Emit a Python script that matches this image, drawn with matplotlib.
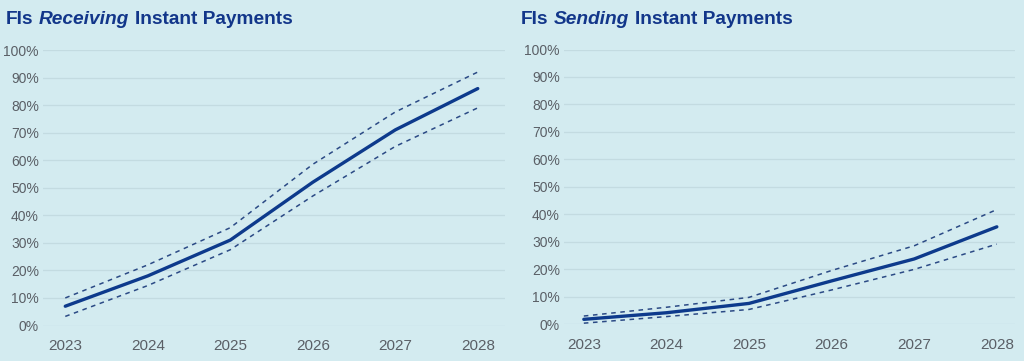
import matplotlib
matplotlib.use('Agg')
import matplotlib.pyplot as plt
from matplotlib.offsetbox import TextArea, HPacker, AnchoredOffsetbox
from matplotlib.ticker import PercentFormatter

years = [2023, 2024, 2025, 2026, 2027, 2028]
recv_mid = [0.07, 0.18, 0.31, 0.52, 0.71, 0.86]
recv_hi = [0.10, 0.22, 0.355, 0.585, 0.775, 0.92]
recv_lo = [0.033, 0.145, 0.275, 0.47, 0.65, 0.79]
send_mid = [0.017, 0.041, 0.075, 0.157, 0.237, 0.354]
send_hi = [0.029, 0.061, 0.097, 0.195, 0.285, 0.417]
send_lo = [0.003, 0.027, 0.053, 0.124, 0.199, 0.291]

BG = '#d3ebf0'
NAVY = '#0d3a8c'
DASH = '#2b4a85'
TITLE = '#12368a'
plt.rcParams['font.family'] = ['Liberation Sans', 'DejaVu Sans']

fig = plt.figure(figsize=(10.24, 3.61), dpi=100, facecolor=BG)

def panel(rect, mid, hi, lo, xlim, word, tx):
    ax = fig.add_axes(rect, facecolor=BG)
    ax.plot(years, hi, color=DASH, lw=1.1, ls=(0, (3, 3)), clip_on=False)
    ax.plot(years, lo, color=DASH, lw=1.1, ls=(0, (3, 3)), clip_on=False)
    ax.plot(years, mid, color=NAVY, lw=2.4, solid_capstyle='round', clip_on=False)
    ax.set_xlim(*xlim)
    ax.set_ylim(0, 1)
    ax.set_yticks([i / 10 for i in range(11)])
    ax.yaxis.set_major_formatter(PercentFormatter(1.0, decimals=0))
    ax.set_xticks(years)
    ax.grid(axis='y', color='#c3dbe1', lw=0.9)
    ax.set_axisbelow(True)
    for s in ax.spines.values():
        s.set_visible(False)
    ax.tick_params(length=0, labelsize=10, colors='#5a5f66')
    ax.tick_params(axis='x', pad=10, labelsize=11)
    ax.tick_params(axis='y', pad=3)
    parts = [TextArea('FIs', textprops=dict(color=TITLE, fontsize=13.8, fontweight='bold')),
             TextArea(word, textprops=dict(color=TITLE, fontsize=13.8, fontweight='bold', fontstyle='italic')),
             TextArea('Instant Payments', textprops=dict(color=TITLE, fontsize=13.8, fontweight='bold'))]
    box = HPacker(children=parts, align='baseline', pad=0, sep=4)
    ab = AnchoredOffsetbox(loc='lower left', child=box, pad=0, borderpad=0, frameon=False,
                           bbox_to_anchor=(tx, 1 - 28 / 361), bbox_transform=fig.transFigure)
    fig.add_artist(ab)
    return ax

panel([43 / 1024, 1 - 325.5 / 361, 462 / 1024, 275.5 / 361], recv_mid, recv_hi, recv_lo,
      (2022.73, 2028.33), 'Receiving', 6 / 1024)
panel([564 / 1024, 1 - 324 / 361, 451 / 1024, 274.5 / 361], send_mid, send_hi, send_lo,
      (2022.76, 2028.22), 'Sending', 521 / 1024)

fig.savefig('out.png', dpi=100, facecolor=BG)
